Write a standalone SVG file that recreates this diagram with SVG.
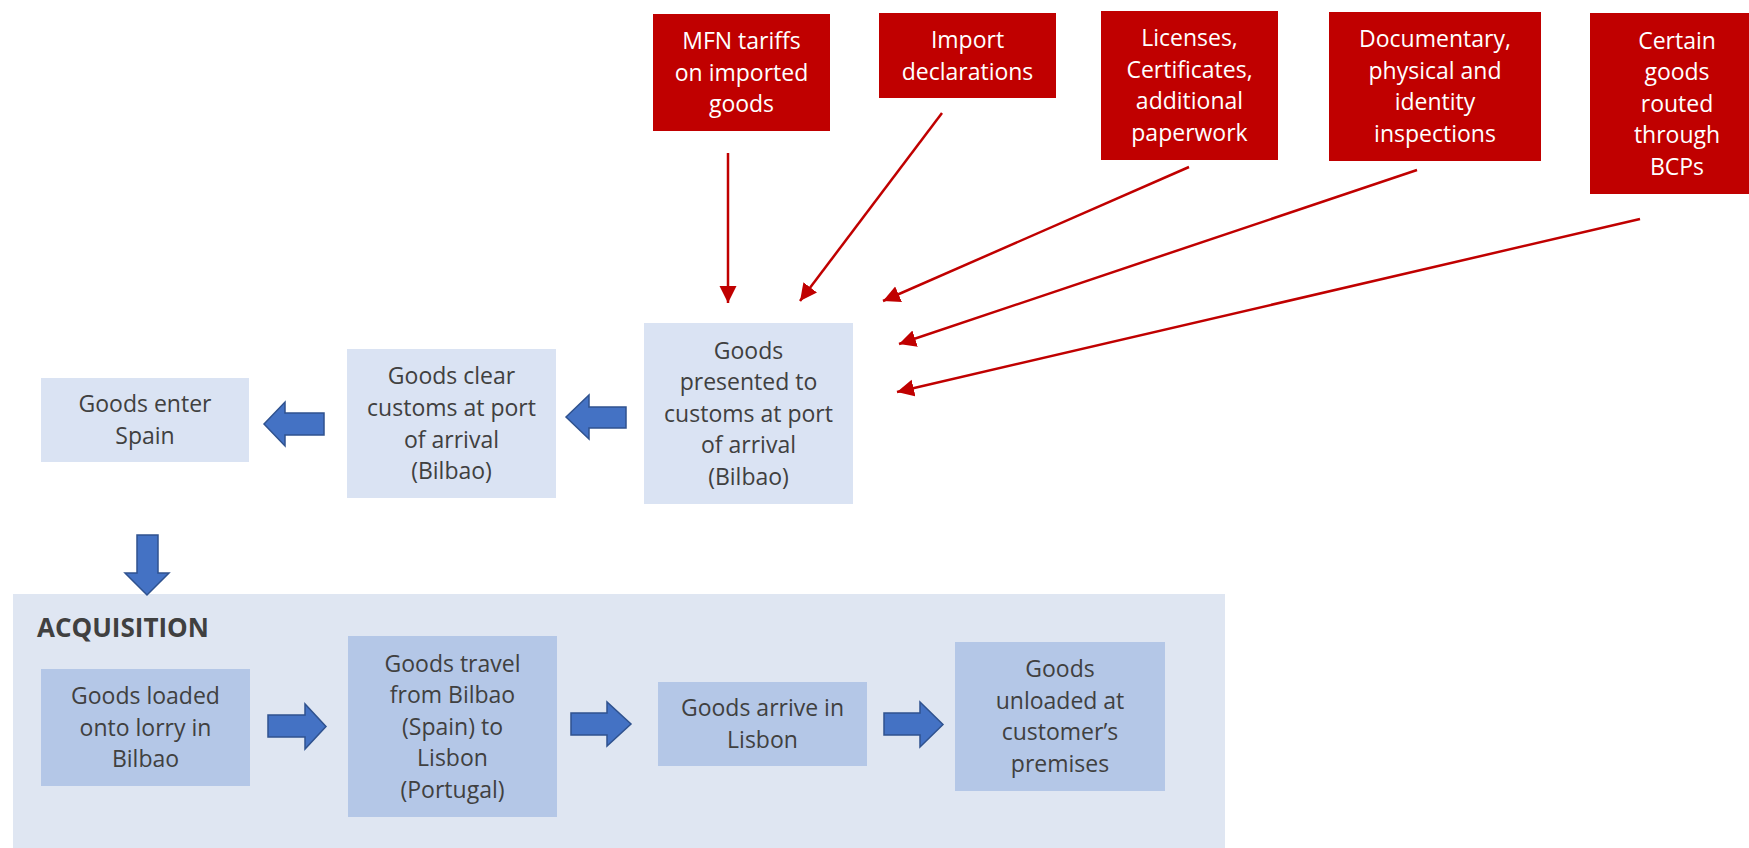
<svg xmlns="http://www.w3.org/2000/svg" width="1749" height="848" viewBox="0 0 1749 848">
<style>
.t{font-family:"Open Sans","Liberation Sans",sans-serif;font-size:23px;text-anchor:middle;fill:#404040}
.w{fill:#ffffff}
.red{fill:#C00000}
.lb{fill:#DAE3F3}
.db{fill:#B4C7E7}
.ba{fill:#4472C4;stroke:#2F528F;stroke-width:1.5}
.ra{stroke:#C00000;stroke-width:2.5;fill:none;marker-end:url(#ah)}
</style>
<defs>
<marker id="ah" markerUnits="userSpaceOnUse" markerWidth="18" markerHeight="18" refX="17" refY="9" orient="auto" viewBox="0 0 18 18">
<path d="M0,0.5 L17,9 L0,17.5 z" fill="#C00000"/>
</marker>
</defs>
<rect width="1749" height="848" fill="#ffffff"/>
<g id="acquisition">
<rect x="13" y="594" width="1212" height="270" fill="#DFE6F2"/>
<text x="37" y="637" style="font-family:'Open Sans','Liberation Sans',sans-serif;font-size:26px;font-weight:bold;fill:#404040">ACQUISITION</text>
</g>
<g id="mfn">
<rect class="red" x="653" y="14" width="177" height="117"/>
<text class="t w"><tspan x="741.5" y="49">MFN tariffs</tspan><tspan x="741.5" y="80.5">on imported</tspan><tspan x="741.5" y="112">goods</tspan></text>
</g>
<g id="import">
<rect class="red" x="879" y="13" width="177" height="85"/>
<text class="t w"><tspan x="967.5" y="48">Import</tspan><tspan x="967.5" y="79.5">declarations</tspan></text>
</g>
<g id="licenses">
<rect class="red" x="1101" y="11" width="177" height="149"/>
<text class="t w"><tspan x="1189.5" y="46">Licenses,</tspan><tspan x="1189.5" y="77.5">Certificates,</tspan><tspan x="1189.5" y="109">additional</tspan><tspan x="1189.5" y="140.5">paperwork</tspan></text>
</g>
<g id="documentary">
<rect class="red" x="1329" y="12" width="212" height="149"/>
<text class="t w"><tspan x="1435" y="47">Documentary,</tspan><tspan x="1435" y="78.5">physical and</tspan><tspan x="1435" y="110">identity</tspan><tspan x="1435" y="141.5">inspections</tspan></text>
</g>
<g id="certain">
<rect class="red" x="1590" y="13" width="175" height="181"/>
<text class="t w"><tspan x="1677" y="48.5">Certain</tspan><tspan x="1677" y="80">goods</tspan><tspan x="1677" y="111.5">routed</tspan><tspan x="1677" y="143">through</tspan><tspan x="1677" y="174.5">BCPs</tspan></text>
</g>
<g id="enter">
<rect class="lb" x="41" y="378" width="208" height="84"/>
<text class="t"><tspan x="145" y="412">Goods enter</tspan><tspan x="145" y="444">Spain</tspan></text>
</g>
<g id="clear">
<rect class="lb" x="347" y="349" width="209" height="149"/>
<text class="t"><tspan x="451.5" y="384">Goods clear</tspan><tspan x="451.5" y="416">customs at port</tspan><tspan x="451.5" y="447.5">of arrival</tspan><tspan x="451.5" y="479">(Bilbao)</tspan></text>
</g>
<g id="presented">
<rect class="lb" x="644" y="323" width="209" height="181"/>
<text class="t"><tspan x="748.5" y="358.5">Goods</tspan><tspan x="748.5" y="390">presented to</tspan><tspan x="748.5" y="421.5">customs at port</tspan><tspan x="748.5" y="453">of arrival</tspan><tspan x="748.5" y="484.5">(Bilbao)</tspan></text>
</g>
<g id="loaded">
<rect class="db" x="41" y="669" width="209" height="117"/>
<text class="t"><tspan x="145.5" y="704">Goods loaded</tspan><tspan x="145.5" y="735.5">onto lorry in</tspan><tspan x="145.5" y="767">Bilbao</tspan></text>
</g>
<g id="travel">
<rect class="db" x="348" y="636" width="209" height="181"/>
<text class="t"><tspan x="452.5" y="671.5">Goods travel</tspan><tspan x="452.5" y="703">from Bilbao</tspan><tspan x="452.5" y="734.5">(Spain) to</tspan><tspan x="452.5" y="766">Lisbon</tspan><tspan x="452.5" y="797.5">(Portugal)</tspan></text>
</g>
<g id="arrive">
<rect class="db" x="658" y="682" width="209" height="84"/>
<text class="t"><tspan x="762.5" y="716">Goods arrive in</tspan><tspan x="762.5" y="748">Lisbon</tspan></text>
</g>
<g id="unloaded">
<rect class="db" x="955" y="642" width="210" height="149"/>
<text class="t"><tspan x="1060" y="677">Goods</tspan><tspan x="1060" y="708.5">unloaded at</tspan><tspan x="1060" y="740">customer’s</tspan><tspan x="1060" y="771.5">premises</tspan></text>
</g>
<g id="connectors">
<polygon class="ba" points="264,424 285,402 285,413 324,413 324,435 285,435 285,446"/>
<polygon class="ba" points="566,417 589,395 589,407 626,407 626,428 589,428 589,439"/>
<polygon class="ba" points="137,535 158,535 158,573 169,573 147,595 125,573 137,573"/>
<polygon class="ba" points="268,715 305,715 305,704 326,726.5 305,749 305,737 268,737"/>
<polygon class="ba" points="571,713 607,713 607,702 631,724 607,746 607,735 571,735"/>
<polygon class="ba" points="884,713 920,713 920,702 943,724.5 920,747 920,735 884,735"/>
<line class="ra" x1="728" y1="153" x2="728" y2="303"/>
<line class="ra" x1="942" y1="113" x2="800" y2="301"/>
<line class="ra" x1="1189" y1="167" x2="883" y2="301"/>
<line class="ra" x1="1417" y1="170" x2="899" y2="344"/>
<line class="ra" x1="1640" y1="219" x2="897" y2="392"/>
</g>
</svg>
